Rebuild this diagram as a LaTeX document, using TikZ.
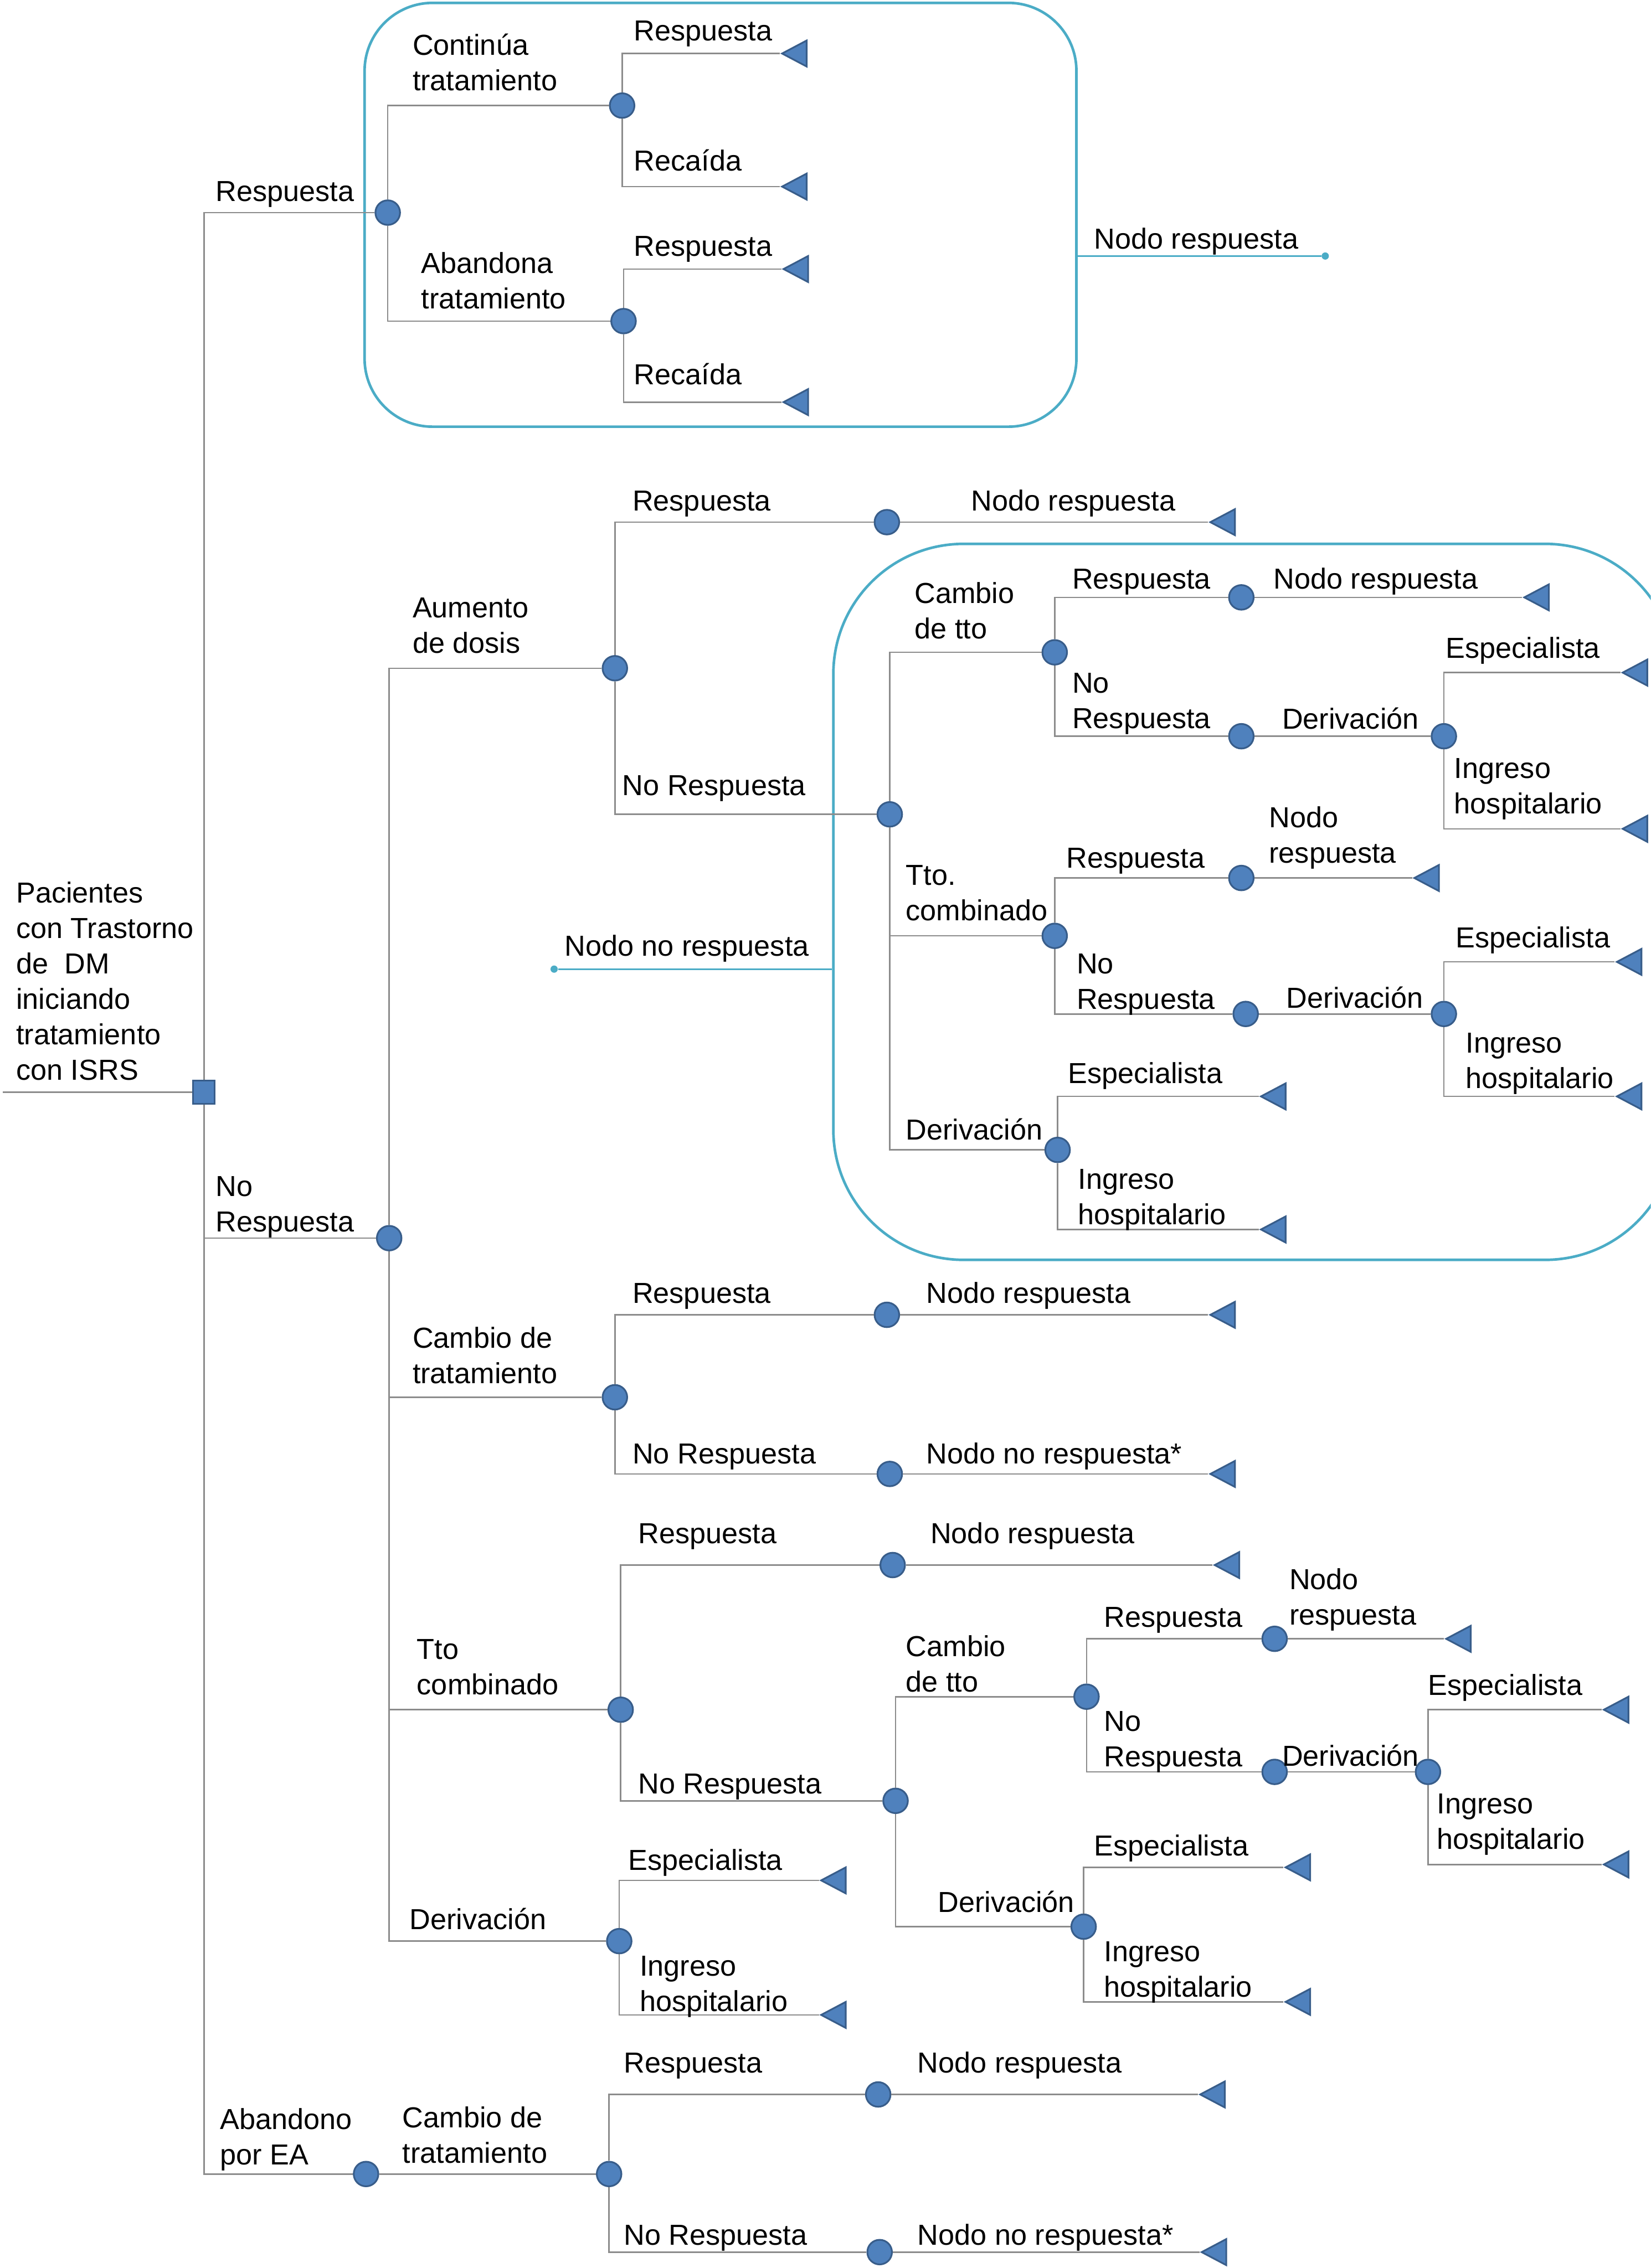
\documentclass[tikz,border=0pt]{standalone}
\usepackage{fontspec}
\setmainfont{Liberation Sans}
\usetikzlibrary{shapes.geometric}
\definecolor{nodeblue}{HTML}{4F81BD}
\definecolor{nodeedge}{HTML}{385D8A}
\definecolor{zonecyan}{HTML}{4BACC6}
\definecolor{branchgray}{HTML}{8C8C8C}
\tikzset{chance/.style={circle, draw=nodeedge, fill=nodeblue, line width=1.2pt, minimum size=17pt, inner sep=0pt}}
\tikzset{decision/.style={rectangle, draw=nodeedge, fill=nodeblue, line width=1.2pt, minimum width=15pt, minimum height=16pt, inner sep=0pt}}
\tikzset{terminal/.style={isosceles triangle, isosceles triangle stretches, shape border rotate=180, draw=nodeedge, fill=nodeblue, line width=1.2pt, minimum width=18pt, minimum height=17pt, inner sep=0pt, anchor=apex}}
\tikzset{lbl/.style={anchor=base west, inner sep=0pt, align=left, font=\fontsize{20}{24.5}\selectfont}}
\tikzset{branch/.style={draw=branchgray, line width=1pt}}
\tikzset{zone/.style={draw=zonecyan, line width=1.8pt, rounded corners=#1, inner sep=0pt}}
\tikzset{enddot/.style={circle, fill=zonecyan, minimum size=5pt, inner sep=0pt}}

\begin{document}
\begin{tikzpicture}[x=1pt, y=-1pt]
        \clip (0,0) rectangle (1141,1568);

        \node[zone=47pt, minimum width=492pt, minimum height=293pt](box1)at(498,148.5){};
        \node[zone=90pt, minimum width=582pt, minimum height=495pt](box2)at(867,623.5){};
        \node[enddot](nr)at(916,177){};
        \node[enddot](nnr)at(383,670){};
        \draw[zonecyan, line width=1pt](box1.east |- nr)--(nr);
        \draw[zonecyan, line width=1pt](box2.west |- nnr)--(nnr);
        \node[lbl]at(756,172){Nodo respuesta};
        \node[lbl]at(390,661){Nodo no respuesta};

        \coordinate(in)at(2,755);
        \node[decision](root)at(141,755){};
        \node[lbl]at(11,746.5){Pacientes\\con Trastorno\\de\ \ DM\\iniciando\\tratamiento\\con ISRS};
        \draw[branch](in)--(root);

        \node[chance](c1)at(268,147){};
        \node[chance](c2)at(269,856){};
        \node[chance](c3)at(253,1503){};
        \draw[branch](root)|-(c1);
        \draw[branch](root)|-(c2);
        \draw[branch](root)|-(c3);
        \node[lbl]at(149,139){Respuesta};
        \node[lbl]at(149,851.5){No\\Respuesta};
        \node[lbl]at(152,1496.5){Abandono\\por EA};

        \node[chance](c11)at(430,73){};
        \node[chance](c12)at(431,222){};
        \draw[branch](c1)|-(c11);
        \draw[branch](c1)|-(c12);
        \node[lbl]at(285,62.5){Continúa\\tratamiento};
        \node[lbl]at(291,213.5){Abandona\\tratamiento};
        \node[terminal](t111)at(539,37){};
        \node[terminal](t112)at(539,129){};
        \node[terminal](t121)at(540,186){};
        \node[terminal](t122)at(540,278){};
        \draw[branch](c11)|-(t111.apex);
        \draw[branch](c11)|-(t112.apex);
        \draw[branch](c12)|-(t121.apex);
        \draw[branch](c12)|-(t122.apex);
        \node[lbl]at(438,28){Respuesta};
        \node[lbl]at(438,118){Recaída};
        \node[lbl]at(438,177){Respuesta};
        \node[lbl]at(438,266){Recaída};

        \node[chance](c21)at(425,462){};
        \node[chance](c22)at(425,966){};
        \node[chance](c23)at(429,1182){};
        \node[chance](c24)at(428,1342){};
        \draw[branch](c2)|-(c21);
        \draw[branch](c2)|-(c22);
        \draw[branch](c2)|-(c23);
        \draw[branch](c2)|-(c24);
        \node[lbl]at(285,451.5){Aumento\\de dosis};
        \node[lbl]at(285,956.5){Cambio de\\tratamiento};
        \node[lbl]at(288,1171.5){Tto\\combinado};
        \node[lbl]at(283,1334){Derivación};

        \node[chance](c211)at(613,361){};
        \node[chance](c212)at(615,563){};
        \node[terminal](t211)at(835,361){};
        \draw[branch](c21)|-(c211);
        \draw[branch](c21)|-(c212);
        \draw[branch](c211)--(t211.apex);
        \node[lbl]at(437,353){Respuesta};
        \node[lbl]at(671,353){Nodo respuesta};
        \node[lbl]at(430,550){No Respuesta};

        \node[chance](c2121)at(729,451){};
        \node[chance](c2122)at(729,647){};
        \node[chance](c2123)at(731,795){};
        \draw[branch](c212)|-(c2121);
        \draw[branch](c212)|-(c2122);
        \draw[branch](c212)|-(c2123);
        \node[lbl]at(632,441.5){Cambio\\de tto};
        \node[lbl]at(626,636.5){Tto.\\combinado};
        \node[lbl]at(626,788){Derivación};

        \node[chance](c21211)at(858,413){};
        \node[chance](c21212)at(858,509){};
        \node[chance](c21213)at(998,509){};
        \node[terminal](t21211)at(1052,413){};
        \node[terminal](t21213a)at(1120,465){};
        \node[terminal](t21213b)at(1120,573){};
        \draw[branch](c2121)|-(c21211);
        \draw[branch](c2121)|-(c21212);
        \draw[branch](c21211)--(t21211.apex);
        \draw[branch](c21212)--(c21213);
        \draw[branch](c21213)|-(t21213a.apex);
        \draw[branch](c21213)|-(t21213b.apex);
        \node[lbl]at(741,407){Respuesta};
        \node[lbl]at(880,407){Nodo respuesta};
        \node[lbl]at(741,503.5){No\\Respuesta};
        \node[lbl]at(886,504){Derivación};
        \node[lbl]at(999,455){Especialista};
        \node[lbl]at(1005,562.5){Ingreso\\hospitalario};

        \node[chance](c21221)at(858,607){};
        \node[chance](c21222)at(861,701){};
        \node[chance](c21223)at(998,701){};
        \node[terminal](t21221)at(976,607){};
        \node[terminal](t21223a)at(1116,665){};
        \node[terminal](t21223b)at(1116,758){};
        \draw[branch](c2122)|-(c21221);
        \draw[branch](c2122)|-(c21222);
        \draw[branch](c21221)--(t21221.apex);
        \draw[branch](c21222)--(c21223);
        \draw[branch](c21223)|-(t21223a.apex);
        \draw[branch](c21223)|-(t21223b.apex);
        \node[lbl]at(737,600){Respuesta};
        \node[lbl]at(877,596.5){Nodo\\respuesta};
        \node[lbl]at(744,697.5){No\\Respuesta};
        \node[lbl]at(889,697){Derivación};
        \node[lbl]at(1006,655){Especialista};
        \node[lbl]at(1013,752.5){Ingreso\\hospitalario};

        \node[terminal](t2123a)at(870,758){};
        \node[terminal](t2123b)at(870,850){};
        \draw[branch](c2123)|-(t2123a.apex);
        \draw[branch](c2123)|-(t2123b.apex);
        \node[lbl]at(738,749){Especialista};
        \node[lbl]at(745,846.5){Ingreso\\hospitalario};

        \node[chance](c221)at(613,909){};
        \node[chance](c222)at(615,1019){};
        \node[terminal](t221)at(835,909){};
        \node[terminal](t222)at(835,1019){};
        \draw[branch](c22)|-(c221);
        \draw[branch](c22)|-(c222);
        \draw[branch](c221)--(t221.apex);
        \draw[branch](c222)--(t222.apex);
        \node[lbl]at(437,901){Respuesta};
        \node[lbl]at(640,901){Nodo respuesta};
        \node[lbl]at(437,1012){No Respuesta};
        \node[lbl]at(640,1012){Nodo no respuesta*};

        \node[chance](c231)at(617,1082){};
        \node[chance](c232)at(619,1245){};
        \node[terminal](t231)at(838,1082){};
        \draw[branch](c23)|-(c231);
        \draw[branch](c23)|-(c232);
        \draw[branch](c231)--(t231.apex);
        \node[lbl]at(441,1067){Respuesta};
        \node[lbl]at(643,1067){Nodo respuesta};
        \node[lbl]at(441,1240){No Respuesta};

        \node[chance](c2321)at(751,1173){};
        \node[chance](c2322)at(749,1332){};
        \draw[branch](c232)|-(c2321);
        \draw[branch](c232)|-(c2322);
        \node[lbl]at(626,1169.5){Cambio\\de tto};
        \node[lbl]at(648,1322){Derivación};

        \node[chance](c23211)at(881,1133){};
        \node[chance](c23212)at(881,1225){};
        \node[chance](c23213)at(987,1225){};
        \node[terminal](t23211)at(998,1133){};
        \node[terminal](t23213a)at(1107,1182){};
        \node[terminal](t23213b)at(1107,1289){};
        \draw[branch](c2321)|-(c23211);
        \draw[branch](c2321)|-(c23212);
        \draw[branch](c23211)--(t23211.apex);
        \draw[branch](c23212)--(c23213);
        \draw[branch](c23213)|-(t23213a.apex);
        \draw[branch](c23213)|-(t23213b.apex);
        \node[lbl]at(763,1125){Respuesta};
        \node[lbl]at(891,1123.5){Nodo\\respuesta};
        \node[lbl]at(763,1221.5){No\\Respuesta};
        \node[lbl]at(886,1221){Derivación};
        \node[lbl]at(987,1172){Especialista};
        \node[lbl]at(993,1278.5){Ingreso\\hospitalario};

        \node[terminal](t2322a)at(887,1291){};
        \node[terminal](t2322b)at(887,1384){};
        \draw[branch](c2322)|-(t2322a.apex);
        \draw[branch](c2322)|-(t2322b.apex);
        \node[lbl]at(756,1283){Especialista};
        \node[lbl]at(763,1380.5){Ingreso\\hospitalario};

        \node[terminal](t24a)at(566,1300){};
        \node[terminal](t24b)at(566,1393){};
        \draw[branch](c24)|-(t24a.apex);
        \draw[branch](c24)|-(t24b.apex);
        \node[lbl]at(434,1293){Especialista};
        \node[lbl]at(442,1390.5){Ingreso\\hospitalario};

        \node[chance](c31)at(421,1503){};
        \node[chance](c311)at(607,1448){};
        \node[chance](c312)at(608,1557){};
        \node[terminal](t311)at(828,1448){};
        \node[terminal](t312)at(829,1557){};
        \draw[branch](c3)--(c31);
        \draw[branch](c31)|-(c311);
        \draw[branch](c31)|-(c312);
        \draw[branch](c311)--(t311.apex);
        \draw[branch](c312)--(t312.apex);
        \node[lbl]at(278,1495.5){Cambio de\\tratamiento};
        \node[lbl]at(431,1433){Respuesta};
        \node[lbl]at(634,1433){Nodo respuesta};
        \node[lbl]at(431,1552){No Respuesta};
        \node[lbl]at(634,1552){Nodo no respuesta*};
    \end{tikzpicture}
\end{document}
